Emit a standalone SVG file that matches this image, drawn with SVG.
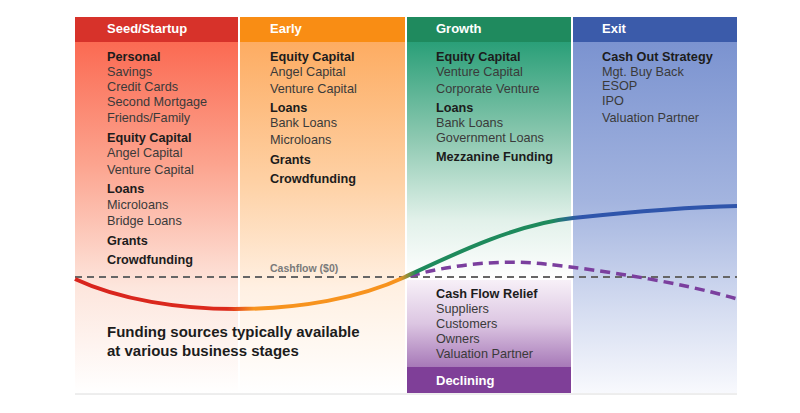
<svg xmlns="http://www.w3.org/2000/svg" width="800" height="413" viewBox="0 0 800 413">
<defs>
<linearGradient id="gSeed" x1="0" y1="42" x2="0" y2="393" gradientUnits="userSpaceOnUse">
<stop offset="0" stop-color="#fb6a52"/>
<stop offset="0.35" stop-color="#fca48f"/>
<stop offset="0.7" stop-color="#fde6dd"/>
<stop offset="1" stop-color="#ffffff"/>
</linearGradient>
<linearGradient id="gEarly" x1="0" y1="42" x2="0" y2="393" gradientUnits="userSpaceOnUse">
<stop offset="0" stop-color="#fdac62"/>
<stop offset="0.4" stop-color="#fed1a5"/>
<stop offset="0.7" stop-color="#fff0e2"/>
<stop offset="1" stop-color="#ffffff"/>
</linearGradient>
<linearGradient id="gGrowth" x1="0" y1="42" x2="0" y2="280" gradientUnits="userSpaceOnUse">
<stop offset="0" stop-color="#2a9f78"/>
<stop offset="0.4" stop-color="#8cc8b0"/>
<stop offset="0.75" stop-color="#e2f1ea"/>
<stop offset="1" stop-color="#ffffff"/>
</linearGradient>
<linearGradient id="gDecl" x1="0" y1="280" x2="0" y2="367" gradientUnits="userSpaceOnUse">
<stop offset="0" stop-color="#f7f0f8"/>
<stop offset="0.5" stop-color="#dcc6e2"/>
<stop offset="1" stop-color="#a779b8"/>
</linearGradient>
<linearGradient id="gExit" x1="0" y1="42" x2="0" y2="393" gradientUnits="userSpaceOnUse">
<stop offset="0" stop-color="#7b93d0"/>
<stop offset="0.45" stop-color="#a3b4df"/>
<stop offset="0.75" stop-color="#d3dbf0"/>
<stop offset="1" stop-color="#f8f9fd"/>
</linearGradient>
<linearGradient id="gCurve" x1="75" y1="0" x2="737" y2="0" gradientUnits="userSpaceOnUse">
<stop offset="0" stop-color="#d8241d"/>
<stop offset="0.23" stop-color="#dc2a1d"/>
<stop offset="0.27" stop-color="#f7931e"/>
<stop offset="0.49" stop-color="#f7931e"/>
<stop offset="0.515" stop-color="#1e8a5c"/>
<stop offset="0.72" stop-color="#1e8a5c"/>
<stop offset="0.76" stop-color="#2f55ab"/>
<stop offset="1" stop-color="#2f55ab"/>
</linearGradient>
<style>
.hd{font-family:"Liberation Sans",Arial,sans-serif;font-size:13px;font-weight:bold;fill:#ffffff}
.b{font-family:"Liberation Sans",Arial,sans-serif;font-size:12.7px;font-weight:bold;fill:#1c1c1c}
.n{font-family:"Liberation Sans",Arial,sans-serif;font-size:12.7px;fill:#3a3a3a}
.ft{font-family:"Liberation Sans",Arial,sans-serif;font-size:15px;font-weight:bold;fill:#1c1c1c}
.cf{font-family:"Liberation Sans",Arial,sans-serif;font-size:10.5px;font-weight:bold;fill:#7a7a7a}
</style>
</defs>
<rect x="0" y="0" width="800" height="413" fill="#ffffff"/>

<g id="seed">
<rect x="75" y="42" width="163" height="351" fill="url(#gSeed)"/>
<rect x="75" y="17" width="163" height="25" fill="#d7322a"/>
<text class="hd" x="107" y="33">Seed/Startup</text>
<text class="b" x="107" y="61">Personal</text>
<text class="n" x="107" y="76">Savings</text>
<text class="n" x="107" y="91">Credit Cards</text>
<text class="n" x="107" y="106">Second Mortgage</text>
<text class="n" x="107" y="122">Friends/Family</text>
<text class="b" x="107" y="142">Equity Capital</text>
<text class="n" x="107" y="157">Angel Capital</text>
<text class="n" x="107" y="174">Venture Capital</text>
<text class="b" x="107" y="193">Loans</text>
<text class="n" x="107" y="209">Microloans</text>
<text class="n" x="107" y="225">Bridge Loans</text>
<text class="b" x="107" y="245">Grants</text>
<text class="b" x="107" y="264">Crowdfunding</text>
</g>

<g id="early">
<rect x="240" y="42" width="165" height="351" fill="url(#gEarly)"/>
<rect x="240" y="17" width="165" height="25" fill="#f98d14"/>
<text class="hd" x="270" y="33">Early</text>
<text class="b" x="270" y="61">Equity Capital</text>
<text class="n" x="270" y="76">Angel Capital</text>
<text class="n" x="270" y="93">Venture Capital</text>
<text class="b" x="270" y="112">Loans</text>
<text class="n" x="270" y="127">Bank Loans</text>
<text class="n" x="270" y="144">Microloans</text>
<text class="b" x="270" y="164">Grants</text>
<text class="b" x="270" y="183">Crowdfunding</text>
<text class="cf" x="270" y="272">Cashflow ($0)</text>
</g>

<g id="growth">
<rect x="407" y="42" width="164" height="238" fill="url(#gGrowth)"/>
<rect x="407" y="17" width="164" height="25" fill="#1f8a5e"/>
<text class="hd" x="436" y="33">Growth</text>
<text class="b" x="436" y="61">Equity Capital</text>
<text class="n" x="436" y="76">Venture Capital</text>
<text class="n" x="436" y="93">Corporate Venture</text>
<text class="b" x="436" y="112">Loans</text>
<text class="n" x="436" y="127">Bank Loans</text>
<text class="n" x="436" y="142">Government Loans</text>
<text class="b" x="436" y="161">Mezzanine Funding</text>
</g>

<g id="declining">
<rect x="407" y="280" width="164" height="87" fill="url(#gDecl)"/>
<rect x="407" y="367" width="164" height="26" fill="#7f3f98"/>
<text class="b" x="436" y="298">Cash Flow Relief</text>
<text class="n" x="436" y="313">Suppliers</text>
<text class="n" x="436" y="328">Customers</text>
<text class="n" x="436" y="343">Owners</text>
<text class="n" x="436" y="358">Valuation Partner</text>
<text class="hd" x="436" y="385">Declining</text>
</g>

<g id="exit">
<rect x="573" y="42" width="164" height="351" fill="url(#gExit)"/>
<rect x="573" y="17" width="164" height="25" fill="#3b5baa"/>
<text class="hd" x="602" y="33">Exit</text>
<text class="b" x="602" y="61">Cash Out Strategy</text>
<text class="n" x="602" y="76">Mgt. Buy Back</text>
<text class="n" x="602" y="90">ESOP</text>
<text class="n" x="602" y="105">IPO</text>
<text class="n" x="602" y="122">Valuation Partner</text>
</g>

<line x1="75" y1="394" x2="737" y2="394" stroke="#dcdcdc" stroke-width="1"/>

<g id="connectors" fill="none">
<line x1="75" y1="277" x2="737" y2="277" stroke="#666666" stroke-width="2" stroke-dasharray="7,5"/>
<path d="M410,276 C450,265 500,259 545,264 C600,270 680,282 737,299" stroke="#7b3f9e" stroke-width="3.5" stroke-dasharray="10,6"/>
<path d="M75,279 C120,300 180,309 235,309 C300,309 360,298 405,277 C450,256 515,224 573,218 C630,212 690,207 737,206" stroke="url(#gCurve)" stroke-width="4"/>
</g>

<g id="caption">
<text class="ft" x="107" y="337">Funding sources typically available</text>
<text class="ft" x="107" y="356">at various business stages</text>
</g>
</svg>
